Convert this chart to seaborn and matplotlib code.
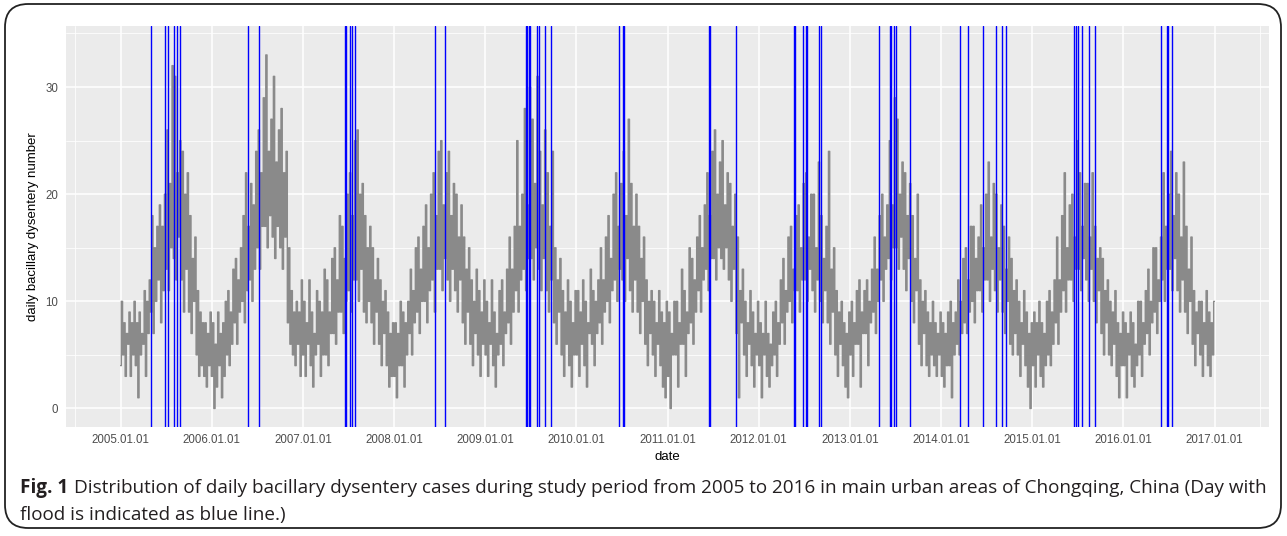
import pandas as pd
import numpy as np
import matplotlib
matplotlib.use("Agg")
import matplotlib.pyplot as plt
import matplotlib.dates as mdates
from matplotlib.patches import FancyBboxPatch
import seaborn as sns

# daily cases (6 samples per month, Jan..Dec)
y2005 = [4, 10, 5, 8, 3, 7, 6, 9, 3, 8, 5, 10, 4, 8, 1, 9, 5, 7, 6, 11, 3, 10, 7, 12,
         9, 18, 7, 15, 10, 17, 12, 19, 8, 17, 11, 20, 13, 26, 11, 21, 15, 32, 14, 31, 12, 22, 16, 25,
         12, 24, 9, 20, 13, 22, 9, 18, 7, 14, 10, 16, 5, 11, 3, 9, 4, 8, 3, 8, 2, 7, 4, 9]
y2006 = [3, 8, 0, 6, 2, 9, 4, 7, 1, 8, 3, 10, 5, 11, 4, 9, 6, 13, 8, 14, 6, 12, 9, 15,
         10, 18, 8, 22, 11, 17, 12, 21, 10, 19, 13, 24, 15, 26, 13, 22, 17, 29, 17, 33, 15, 24, 18, 27,
         16, 31, 14, 23, 17, 26, 15, 28, 13, 22, 16, 24, 8, 15, 6, 11, 5, 9, 4, 10, 6, 9, 3, 12]
y2007 = [5, 10, 3, 8, 6, 12, 4, 9, 2, 7, 5, 11, 6, 10, 3, 9, 5, 13, 5, 12, 4, 9, 7, 14,
         7, 15, 6, 12, 9, 18, 9, 17, 7, 14, 10, 20, 11, 22, 9, 18, 12, 25, 12, 26, 10, 20, 13, 21,
         9, 18, 8, 15, 10, 17, 8, 15, 6, 12, 9, 14, 6, 12, 4, 10, 7, 11, 4, 9, 2, 7, 3, 8]
y2008 = [3, 8, 1, 7, 4, 10, 4, 9, 2, 8, 5, 10, 7, 13, 5, 11, 8, 15, 9, 16, 7, 13, 10, 17,
         10, 19, 8, 15, 11, 20, 12, 22, 9, 18, 13, 24, 13, 25, 11, 19, 14, 22, 12, 24, 10, 18, 13, 21,
         11, 20, 9, 16, 12, 19, 8, 16, 6, 13, 9, 15, 6, 12, 4, 10, 7, 13, 5, 11, 3, 9, 6, 12]
y2009 = [5, 10, 3, 8, 6, 12, 4, 9, 2, 7, 5, 11, 6, 12, 4, 9, 7, 13, 8, 16, 6, 13, 9, 17,
         11, 25, 9, 17, 12, 20, 13, 28, 11, 19, 14, 30, 14, 27, 12, 21, 15, 31, 13, 24, 11, 19, 14, 26,
         11, 22, 9, 17, 12, 24, 8, 15, 6, 12, 9, 14, 5, 11, 3, 9, 6, 12, 4, 10, 2, 8, 5, 11]
y2010 = [5, 11, 3, 9, 6, 12, 4, 10, 2, 8, 7, 13, 6, 11, 4, 10, 7, 12, 8, 15, 6, 12, 9, 16,
         10, 18, 8, 14, 11, 20, 12, 22, 10, 17, 13, 21, 12, 24, 10, 18, 14, 27, 11, 21, 9, 17, 12, 20,
         9, 17, 7, 14, 10, 16, 6, 12, 4, 10, 7, 11, 5, 10, 3, 8, 6, 11, 4, 9, 2, 8, 1, 10]
y2011 = [3, 9, 0, 7, 5, 10, 5, 10, 2, 8, 6, 13, 6, 11, 3, 9, 7, 15, 8, 14, 6, 12, 9, 16,
         11, 18, 9, 15, 12, 19, 13, 22, 11, 18, 14, 24, 14, 26, 12, 20, 15, 23, 14, 25, 13, 19, 15, 22,
         12, 21, 10, 17, 13, 20, 7, 16, 1, 11, 8, 13, 5, 10, 3, 8, 6, 11, 4, 9, 2, 7, 5, 10]
y2012 = [4, 8, 1, 7, 5, 10, 3, 7, 2, 6, 4, 9, 5, 10, 3, 8, 6, 12, 8, 14, 6, 11, 9, 16,
         10, 17, 8, 13, 11, 18, 11, 19, 9, 15, 12, 21, 12, 22, 10, 16, 13, 20, 11, 20, 9, 15, 12, 23,
         10, 18, 8, 14, 11, 17, 8, 24, 6, 13, 9, 15, 5, 11, 3, 9, 6, 10, 4, 8, 2, 7, 1, 9]
y2013 = [5, 10, 3, 8, 6, 11, 6, 12, 2, 9, 7, 11, 7, 12, 4, 10, 8, 13, 9, 16, 7, 13, 10, 18,
         12, 20, 10, 16, 13, 19, 14, 25, 12, 19, 15, 29, 15, 27, 13, 20, 16, 23, 13, 22, 11, 18, 14, 21,
         10, 18, 8, 14, 11, 20, 6, 12, 4, 10, 7, 11, 4, 9, 3, 8, 5, 10, 4, 8, 3, 7, 5, 9]
y2014 = [3, 8, 2, 7, 4, 9, 4, 10, 1, 8, 5, 9, 6, 12, 5, 10, 7, 14, 8, 15, 7, 12, 9, 17,
         10, 17, 8, 14, 11, 16, 11, 19, 9, 15, 12, 20, 12, 23, 10, 16, 13, 21, 11, 20, 9, 15, 12, 19,
         9, 17, 7, 13, 10, 16, 6, 14, 5, 11, 7, 12, 5, 10, 3, 8, 6, 11, 4, 9, 2, 7, 0, 8]
y2015 = [4, 9, 2, 8, 5, 10, 3, 8, 2, 7, 4, 10, 5, 11, 4, 9, 6, 12, 8, 16, 6, 12, 9, 18,
         11, 22, 9, 15, 12, 19, 12, 20, 10, 16, 13, 25, 13, 22, 11, 17, 14, 21, 12, 21, 10, 16, 13, 22,
         10, 17, 8, 14, 11, 15, 7, 14, 5, 11, 8, 12, 5, 10, 4, 9, 6, 11, 3, 8, 1, 7, 4, 9]
y2016 = [4, 8, 1, 7, 5, 9, 3, 8, 2, 6, 4, 10, 5, 10, 3, 8, 6, 11, 7, 13, 5, 10, 8, 15,
         9, 15, 7, 12, 10, 16, 12, 22, 10, 17, 13, 20, 13, 24, 11, 18, 14, 22, 11, 20, 9, 16, 12, 23,
         9, 17, 7, 13, 10, 16, 6, 11, 4, 9, 7, 10, 5, 10, 3, 8, 6, 11, 4, 9, 3, 8, 5, 10]

# days with flood (blue lines)
flood_days = ["2005-05-03", "2005-06-26", "2005-07-10", "2005-08-02", "2005-08-15", "2005-08-28",
              "2006-05-26", "2006-07-09",
              "2007-06-19", "2007-06-23", "2007-07-09", "2007-07-17", "2007-07-30",
              "2008-06-15", "2008-07-23",
              "2009-06-12", "2009-06-16", "2009-06-25", "2009-06-29", "2009-07-28", "2009-08-05",
              "2009-08-29", "2009-09-20",
              "2010-06-21", "2010-07-05", "2010-07-10",
              "2011-06-16", "2011-06-22", "2011-10-01",
              "2012-05-21", "2012-05-26", "2012-06-26", "2012-07-10", "2012-07-14", "2012-09-01",
              "2012-09-08",
              "2013-04-29", "2013-06-10", "2013-06-16", "2013-06-25", "2013-07-03", "2013-08-31",
              "2014-03-19", "2014-04-18", "2014-06-20", "2014-08-10", "2014-09-02", "2014-09-20",
              "2015-06-16", "2015-06-24", "2015-07-04", "2015-07-19", "2015-08-18", "2015-09-08",
              "2016-06-01", "2016-06-24", "2016-06-29", "2016-07-15"]

cases = y2005 + y2006 + y2007 + y2008 + y2009 + y2010 + y2011 + y2012 + y2013 + y2014 + y2015 + y2016
df = pd.DataFrame({"date": pd.date_range("2005-01-01", "2016-12-31", periods=len(cases)),
                   "cases": cases})

sns.set_style("darkgrid", {"axes.facecolor": "#EBEBEB", "grid.color": "white"})
plt.rcParams["font.family"] = ["Liberation Sans", "DejaVu Sans"]

W, H = 1287, 536
fig = plt.figure(figsize=(W / 100, H / 100), dpi=100)
ax = fig.add_axes([66 / W, 1 - 426.7 / H, (1269 - 66) / W, (426.7 - 26) / H])

for d in flood_days:
    ax.axvline(pd.Timestamp(d), color="#0000FF", lw=1.0, zorder=3)
sns.lineplot(data=df, x="date", y="cases", estimator=None, color="#8a8a8a", lw=1.0,
             drawstyle="steps-mid", ax=ax, zorder=2)

x0 = mdates.date2num(pd.Timestamp("2005-01-01"))
x1 = mdates.date2num(pd.Timestamp("2016-12-31"))
pad = 0.05 * (x1 - x0)
ax.set_xlim(x0 - pad, x1 + pad)
ax.set_ylim(-1.7, 35.7)

years = [pd.Timestamp(f"{y}-01-01") for y in range(2005, 2018)]
ax.set_xticks(years)
ax.xaxis.set_major_formatter(mdates.DateFormatter("%Y.%m.%d"))
ax.set_xticks([pd.Timestamp("2004-07-02"), pd.Timestamp("2017-07-02")], minor=True)
ax.set_yticks([0, 10, 20, 30])
ax.set_yticks([5, 15, 25, 35], minor=True)
ax.grid(which="major", color="white", lw=1.1)
ax.grid(which="minor", color="white", lw=0.55)
ax.tick_params(which="major", length=3.5, width=0.8, color="#333333", labelcolor="#4D4D4D",
               labelsize=8.3, pad=2)
ax.tick_params(which="minor", length=0)
for s in ax.spines.values():
    s.set_visible(False)
ax.set_xlabel("date", fontsize=9.5, color="black", labelpad=3)
ax.set_ylabel("daily bacillary dysentery number", fontsize=9.5, color="black", labelpad=4.5)

# rounded frame around figure and caption
frame = FancyBboxPatch((5 / W, 8 / H), (1281 - 5) / W, (532 - 8) / H,
                       boxstyle="round,pad=0,rounding_size=0.018", transform=fig.transFigure,
                       fill=False, ec="#222222", lw=1.3, mutation_aspect=W / H)
fig.patches.append(frame)

cap_font = ["Open Sans", "DejaVu Sans"]
cap_size = 13.6
t1 = fig.text(20 / W, 1 - 488 / H, "Fig. 1", fontsize=cap_size, fontweight="bold", family=cap_font,
              color="#231F20", va="center")
fig.canvas.draw()
bb = t1.get_window_extent()
fig.text((bb.x1 + 6) / W, 1 - 488 / H,
         "Distribution of daily bacillary dysentery cases during study period from 2005 to 2016 "
         "in main urban areas of Chongqing, China (Day with",
         fontsize=cap_size, family=cap_font, color="#231F20", va="center")
fig.text(20 / W, 1 - 515 / H, "flood is indicated as blue line.)", fontsize=cap_size, family=cap_font,
         color="#231F20", va="center")

fig.savefig("out.png", dpi=100, facecolor="white")
